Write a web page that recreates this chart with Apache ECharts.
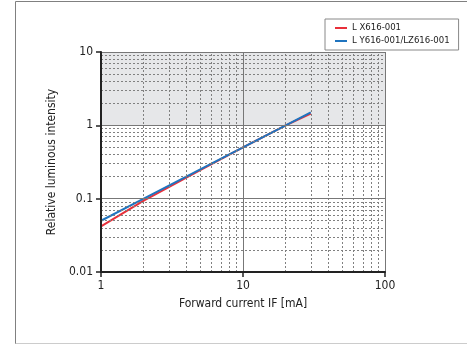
<!DOCTYPE html>
<html>
<head>
<meta charset="utf-8">
<script src="https://cdn.jsdelivr.net/npm/echarts@6/dist/echarts.min.js"></script>
<style>
  html, body { margin: 0; padding: 0; background: #fff; }
  #chart { width: 467px; height: 345px; }
</style>
</head>
<body>
<div id="chart"></div>
<script>
// values (log-log)
var currentMA = [1, 2, 5, 10, 20, 30];
var lxIntensity = [0.042, 0.094, 0.245, 0.5, 1.0, 1.45];
var lyIntensity = [0.05, 0.1, 0.25, 0.5, 1.0, 1.5];
var seriesNames = ['L X616-001', 'L Y616-001/LZ616-001'];

// grid positions: decades (solid) and 2..9 of each decade (dashed)
var xMajor = [10, 100];
var yMajor = [0.1, 1, 10];
var xMinor = [2, 3, 4, 5, 6, 7, 8, 9, 20, 30, 40, 50, 60, 70, 80, 90];
var yMinor = [0.02, 0.03, 0.04, 0.05, 0.06, 0.07, 0.08, 0.09,
              0.2, 0.3, 0.4, 0.5, 0.6, 0.7, 0.8, 0.9,
              2, 3, 4, 5, 6, 7, 8, 9];

var FONT = "'Liberation Sans Narrow', 'DejaVu Sans Condensed', sans-serif";

var chart = echarts.init(document.getElementById('chart'));

var pairs = function (ys) {
  return currentMA.map(function (x, i) { return [x, ys[i]]; });
};

var minorLines = [];
xMinor.forEach(function (v) { minorLines.push({ xAxis: v }); });
yMinor.forEach(function (v) { minorLines.push({ yAxis: v }); });
var majorLines = [];
xMajor.forEach(function (v) { majorLines.push({ xAxis: v }); });
yMajor.forEach(function (v) { majorLines.push({ yAxis: v }); });

var tickFmt = function (v) { return String(+v.toPrecision(3)); };

chart.setOption({
  animation: false,
  textStyle: { fontFamily: FONT },
  graphic: [
    { type: 'line', shape: { x1: 15.5, y1: 1.5, x2: 467, y2: 1.5 }, style: { stroke: '#808080', lineWidth: 1 } },
    { type: 'line', shape: { x1: 15.5, y1: 1.5, x2: 15.5, y2: 344 }, style: { stroke: '#808080', lineWidth: 1 } },
    { type: 'line', shape: { x1: 15.5, y1: 343.5, x2: 467, y2: 343.5 }, style: { stroke: '#cccccc', lineWidth: 1 } }
  ],
  legend: {
    data: seriesNames,
    orient: 'vertical',
    left: 325,
    top: 19,
    backgroundColor: '#fff',
    borderColor: '#888',
    borderWidth: 1,
    borderRadius: 0,
    padding: [3, 9, 3, 10],
    itemGap: 1,
    itemWidth: 12,
    itemHeight: 2,
    icon: 'rect',
    textStyle: { fontFamily: FONT, fontSize: 9.5, color: '#222', lineHeight: 12 }
  },
  grid: { left: 101, right: 82, top: 52, bottom: 73 },
  xAxis: {
    type: 'log',
    logBase: 10,
    min: 1,
    max: 100,
    interval: 1,
    z: 10,
    name: 'Forward current IF [mA]',
    nameLocation: 'middle',
    nameGap: 26,
    nameTextStyle: { fontFamily: FONT, fontSize: 12, color: '#222' },
    axisLine: { show: true, onZero: false, lineStyle: { color: '#222', width: 2 } },
    axisTick: { show: true, length: 5, lineStyle: { color: '#222', width: 1.5 } },
    axisLabel: { fontFamily: FONT, fontSize: 12, color: '#222', margin: 8, formatter: tickFmt },
    splitLine: { show: false }
  },
  yAxis: {
    type: 'log',
    logBase: 10,
    min: 0.01,
    max: 10,
    interval: 1,
    z: 10,
    name: 'Relative luminous intensity',
    nameLocation: 'middle',
    nameGap: 30,
    nameTextStyle: { fontFamily: FONT, fontSize: 12, color: '#222' },
    axisLine: { show: true, onZero: false, lineStyle: { color: '#222', width: 2 } },
    axisTick: { show: true, length: 5, lineStyle: { color: '#222', width: 1.5 } },
    axisLabel: { fontFamily: FONT, fontSize: 12, color: '#222', margin: 8, formatter: tickFmt },
    splitLine: { show: false }
  },
  series: [
    {
      name: 'minor-grid',
      type: 'line',
      data: [],
      z: 1,
      silent: true,
      markArea: {
        silent: true,
        itemStyle: { color: '#e6e7e9' },
        data: [[{ yAxis: 1 }, { yAxis: 10 }]]
      },
      markLine: {
        silent: true,
        symbol: 'none',
        label: { show: false },
        lineStyle: { color: '#808080', width: 1, type: [2, 2] },
        data: minorLines
      }
    },
    {
      name: 'major-grid',
      type: 'line',
      data: [],
      z: 2,
      silent: true,
      markLine: {
        silent: true,
        symbol: 'none',
        label: { show: false },
        lineStyle: { color: '#777', width: 1, type: 'solid' },
        data: majorLines
      }
    },
    {
      name: seriesNames[0],
      type: 'line',
      data: pairs(lxIntensity),
      showSymbol: false,
      z: 3,
      lineStyle: { color: '#e8303a', width: 2 },
      itemStyle: { color: '#e8303a' }
    },
    {
      name: seriesNames[1],
      type: 'line',
      data: pairs(lyIntensity),
      showSymbol: false,
      z: 4,
      lineStyle: { color: '#1f74bf', width: 2 },
      itemStyle: { color: '#1f74bf' }
    }
  ]
});
</script>
</body>
</html>
